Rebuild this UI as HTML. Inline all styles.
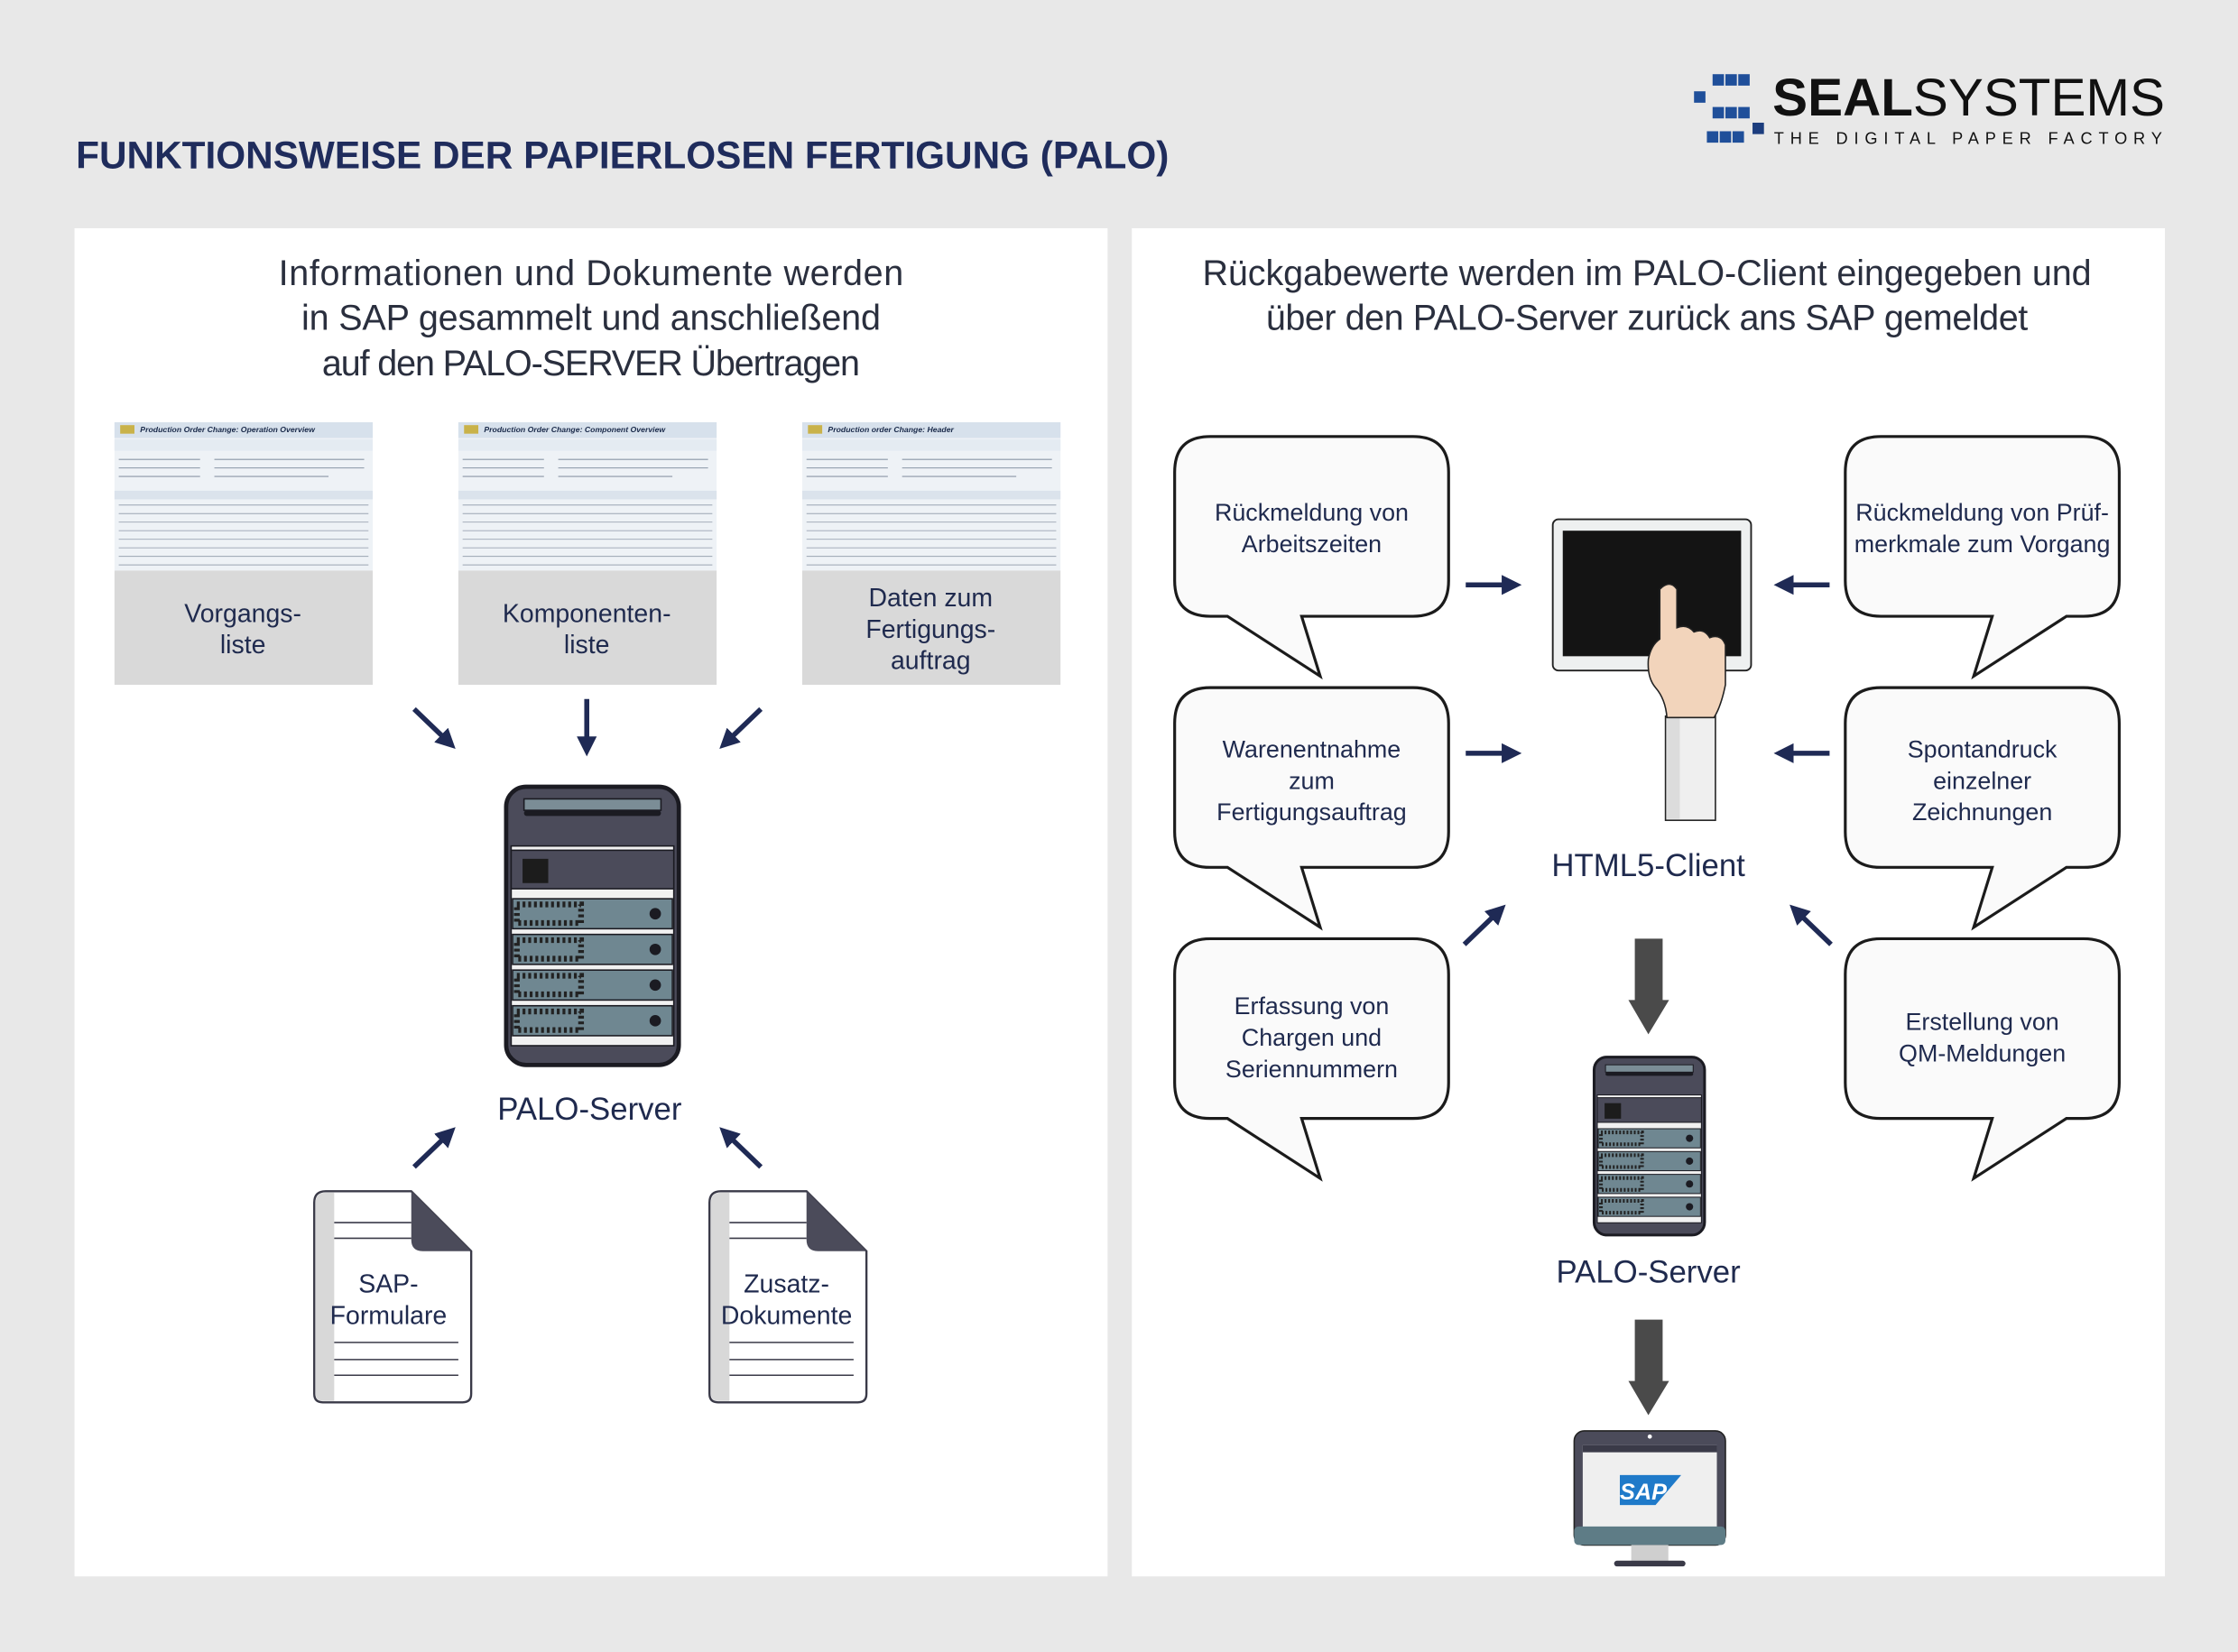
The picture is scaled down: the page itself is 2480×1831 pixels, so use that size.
<!DOCTYPE html>
<html><head><meta charset="utf-8"><style>
html,body{margin:0;padding:0;background:#e8e8e8}
svg{display:block}
text{font-family:"Liberation Sans",sans-serif}
</style></head><body>
<svg width="2480" height="1831" viewBox="0 0 1568 1158" xmlns="http://www.w3.org/2000/svg">
<defs>
<g id="server">
 <rect x="1.5" y="1.5" width="121" height="195" rx="14" fill="#4b4b5a" stroke="#1b1b22" stroke-width="3"/>
 <rect x="14" y="10" width="96" height="8" fill="#7b8d96" stroke="#1b1b22" stroke-width="1"/>
 <rect x="14" y="18" width="96" height="4" rx="2" fill="#1b1b22"/>
 <rect x="5" y="43" width="114" height="140" fill="#f1f1f1" stroke="#1b1b22" stroke-width="1"/>
 <rect x="5" y="46" width="114" height="27" fill="#4b4b5a" stroke="#1b1b22" stroke-width="1"/>
 <rect x="13" y="52" width="18" height="17" fill="#1c1c1c"/>
 <g id="drive">
  <rect x="6" y="80" width="112" height="21" fill="#6f8791" stroke="#1b1b22" stroke-width="1"/>
  <rect x="9" y="84" width="45" height="13" fill="none" stroke="#222" stroke-width="4" stroke-dasharray="2 2"/>
  <circle cx="106" cy="90.5" r="4" fill="#1b1b22"/>
 </g>
 <use href="#drive" y="25"/><use href="#drive" y="50"/><use href="#drive" y="75"/>
</g>
<g id="bubL">
 <path d="M25,0 H167 Q192,0 192,25 V101 Q192,126 167,126 H89 L102,168 L37,126 H25 Q0,126 0,101 V25 Q0,0 25,0 Z" fill="#fafafa" stroke="#1b1b1b" stroke-width="2"/>
</g>
<g id="bubR">
 <path d="M25,0 H167 Q192,0 192,25 V101 Q192,126 167,126 H155 L90,168 L103,126 H25 Q0,126 0,101 V25 Q0,0 25,0 Z" fill="#fafafa" stroke="#1b1b1b" stroke-width="2"/>
</g>
<g id="doc">
 <path d="M8,0 H68 L110,42 V142 Q110,148 104,148 H6 Q0,148 0,142 V8 Q0,0 8,0 Z" fill="#fff" stroke="#3a3a48" stroke-width="1.5"/>
 <path d="M1,8 Q1,1 8,1 H14 V147 H6 Q1,147 1,142 Z" fill="#d8d8d8"/>
 <path d="M68,0 V34 Q68,42 76,42 H110 Z" fill="#4b4b5a"/>
 <line x1="14" y1="22" x2="68" y2="22" stroke="#3a3a48" stroke-width="1"/>
 <line x1="14" y1="33" x2="68" y2="33" stroke="#3a3a48" stroke-width="1"/>
 <line x1="14" y1="106" x2="101" y2="106" stroke="#3a3a48" stroke-width="1"/>
 <line x1="14" y1="118" x2="101" y2="118" stroke="#3a3a48" stroke-width="1"/>
 <line x1="14" y1="129" x2="101" y2="129" stroke="#3a3a48" stroke-width="1"/>
</g>
<g id="shot">
 <rect x="0" y="0" width="181" height="104" fill="#eef2f6"/>
 <rect x="0" y="0" width="181" height="11" fill="#d7e1ec"/>
 <rect x="4" y="2" width="10" height="6" fill="#c9b24a"/>
 <rect x="0" y="12" width="181" height="8" fill="#e4ebf2"/>
 <g stroke="#8a96a6" stroke-width="0.7">
  <line x1="3" y1="26" x2="60" y2="26"/><line x1="70" y1="26" x2="175" y2="26"/>
  <line x1="3" y1="32" x2="60" y2="32"/><line x1="70" y1="32" x2="175" y2="32"/>
  <line x1="3" y1="38" x2="60" y2="38"/><line x1="70" y1="38" x2="150" y2="38"/>
 </g>
 <rect x="0" y="48" width="181" height="6" fill="#dbe3ec"/>
 <g stroke="#9aa4b2" stroke-width="0.6">
  <line x1="3" y1="58" x2="178" y2="58"/><line x1="3" y1="64" x2="178" y2="64"/>
  <line x1="3" y1="70" x2="178" y2="70"/><line x1="3" y1="76" x2="178" y2="76"/>
  <line x1="3" y1="82" x2="178" y2="82"/><line x1="3" y1="88" x2="178" y2="88"/>
  <line x1="3" y1="94" x2="178" y2="94"/><line x1="3" y1="100" x2="178" y2="100"/>
 </g>
</g>
<marker id="ah" viewBox="0 0 10 10" refX="7" refY="5" markerWidth="4" markerHeight="4" orient="auto"><path d="M0,0 L10,5 L0,10 Z" fill="#1f2a55"/></marker>
</defs>

<!-- header -->
<text x="53" y="118" font-size="27" font-weight="bold" fill="#1f2c5c" textLength="766" lengthAdjust="spacingAndGlyphs">FUNKTIONSWEISE DER PAPIERLOSEN FERTIGUNG (PALO)</text>
<g fill="#1f4f9a">
 <rect x="1200" y="52" width="8" height="8"/><rect x="1209" y="52" width="8" height="8"/><rect x="1218" y="52" width="8" height="8"/>
 <rect x="1187" y="64" width="8" height="8"/>
 <rect x="1200" y="75" width="8" height="8"/><rect x="1209" y="75" width="8" height="8"/><rect x="1218" y="75" width="8" height="8"/>
 <rect x="1228" y="86" width="8" height="8" fill="#1c3d7e"/>
 <rect x="1196" y="92" width="8" height="8"/><rect x="1205" y="92" width="8" height="8"/><rect x="1214" y="92" width="8" height="8"/>
</g>
<text x="1242" y="81" font-size="37" fill="#111" textLength="275" lengthAdjust="spacingAndGlyphs"><tspan font-weight="bold">SEAL</tspan>SYSTEMS</text>
<text x="1243" y="101" font-size="11.5" fill="#111" textLength="272" lengthAdjust="spacing">THE DIGITAL PAPER FACTORY</text>

<!-- panels -->
<rect x="52" y="160" width="724" height="945" fill="#fff"/>
<rect x="793" y="160" width="724" height="945" fill="#fff"/>

<g font-size="25" fill="#2a2f3e" text-anchor="middle">
 <text x="414" y="200" textLength="438">Informationen und Dokumente werden</text>
 <text x="414" y="231" textLength="406">in SAP gesammelt und anschließend</text>
 <text x="414" y="263" textLength="377">auf den PALO-SERVER Übertragen</text>
 <text x="1154" y="200" textLength="623">Rückgabewerte werden im PALO-Client eingegeben und</text>
 <text x="1154" y="231" textLength="534">über den PALO-Server zurück ans SAP gemeldet</text>
</g>

<!-- screenshot cards -->
<use href="#shot" x="80" y="296"/><use href="#shot" x="321" y="296"/><use href="#shot" x="562" y="296"/>
<g font-size="5.5" font-weight="bold" font-style="italic" fill="#1a2a4a">
 <text x="98" y="303">Production Order Change: Operation Overview</text>
 <text x="339" y="303">Production Order Change: Component Overview</text>
 <text x="580" y="303">Production order Change: Header</text>
</g>
<rect x="80" y="400" width="181" height="80" fill="#d9d9d9"/>
<rect x="321" y="400" width="181" height="80" fill="#d9d9d9"/>
<rect x="562" y="400" width="181" height="80" fill="#d9d9d9"/>
<g font-size="18" fill="#1f2a4e" text-anchor="middle">
 <text x="170" y="436">Vorgangs-</text><text x="170" y="458">liste</text>
 <text x="411" y="436">Komponenten-</text><text x="411" y="458">liste</text>
 <text x="652" y="425">Daten zum</text><text x="652" y="447">Fertigungs-</text><text x="652" y="469">auftrag</text>
</g>

<g stroke="#1f2a55" stroke-width="3.5" marker-end="url(#ah)">
 <line x1="290" y1="497" x2="316" y2="522"/>
 <line x1="411" y1="490" x2="411" y2="526"/>
 <line x1="533" y1="497" x2="507" y2="522"/>
 <line x1="290" y1="818" x2="316" y2="793"/>
 <line x1="533" y1="818" x2="507" y2="793"/>
 <line x1="1027" y1="410" x2="1062" y2="410"/>
 <line x1="1027" y1="528" x2="1062" y2="528"/>
 <line x1="1282" y1="410" x2="1247" y2="410"/>
 <line x1="1282" y1="528" x2="1247" y2="528"/>
 <line x1="1026" y1="662" x2="1052" y2="637"/>
 <line x1="1283" y1="662" x2="1257" y2="637"/>
</g>

<use href="#server" x="353" y="550"/>
<text x="413" y="785" font-size="22" fill="#1f2a4e" text-anchor="middle">PALO-Server</text>

<use href="#doc" x="220" y="835"/><use href="#doc" x="497" y="835"/>
<g font-size="18" fill="#1f2a4e" text-anchor="middle">
 <text x="272" y="906">SAP-</text><text x="272" y="928">Formulare</text>
 <text x="551" y="906">Zusatz-</text><text x="551" y="928">Dokumente</text>
</g>

<!-- bubbles -->
<use href="#bubL" x="823" y="306"/><use href="#bubL" x="823" y="482"/><use href="#bubL" x="823" y="658"/>
<use href="#bubR" x="1293" y="306"/><use href="#bubR" x="1293" y="482"/><use href="#bubR" x="1293" y="658"/>
<g font-size="17" fill="#1f2a4e" text-anchor="middle">
 <text x="919" y="365">Rückmeldung von</text><text x="919" y="387">Arbeitszeiten</text>
 <text x="919" y="531">Warenentnahme</text><text x="919" y="553">zum</text><text x="919" y="575">Fertigungsauftrag</text>
 <text x="919" y="711">Erfassung von</text><text x="919" y="733">Chargen und</text><text x="919" y="755">Seriennummern</text>
 <text x="1389" y="365">Rückmeldung von Prüf-</text><text x="1389" y="387">merkmale zum Vorgang</text>
 <text x="1389" y="531">Spontandruck</text><text x="1389" y="553">einzelner</text><text x="1389" y="575">Zeichnungen</text>
 <text x="1389" y="722">Erstellung von</text><text x="1389" y="744">QM-Meldungen</text>
</g>

<!-- tablet -->
<rect x="1088" y="364" width="139" height="106" rx="4" fill="#eef0f0" stroke="#222" stroke-width="1.2"/>
<rect x="1095" y="372" width="125" height="88" fill="#141414"/>
<rect x="1167" y="502" width="35" height="73" fill="#efefef" stroke="#222" stroke-width="1"/>
<rect x="1168" y="503" width="9" height="71" fill="#dcdcdc"/>
<path d="M1163,413 Q1170,406 1175,413 L1175,440 Q1182,437 1187,443 Q1194,440 1198,447 Q1206,444 1209,452 L1209,480 Q1206,495 1201,503 L1168,503 Q1167,490 1160,482 Q1154,475 1155,462 Q1157,452 1163,448 Z" fill="#f2d4bb" stroke="#222" stroke-width="1"/>
<text x="1155" y="614" font-size="22" fill="#1f2a4e" text-anchor="middle">HTML5-Client</text>

<!-- gray arrows -->
<path d="M1145.5,658 H1165 V701 H1169.5 L1155,725 L1141,701 H1145.5 Z" fill="#4a4a4a"/>
<path d="M1145.5,925 H1165 V968 H1169.5 L1155,992 L1141,968 H1145.5 Z" fill="#4a4a4a"/>

<g transform="translate(1116,740) scale(0.64)"><use href="#server"/></g>
<text x="1155" y="899" font-size="22" fill="#1f2a4e" text-anchor="middle">PALO-Server</text>

<!-- monitor -->
<rect x="1103" y="1003" width="106" height="80" rx="7" fill="#4b4b5a" stroke="#222" stroke-width="1"/>
<rect x="1109" y="1013" width="94" height="63" fill="#efefef"/>
<rect x="1109" y="1013" width="94" height="5" fill="#3a3a48"/>
<rect x="1103" y="1070" width="106" height="13" rx="3" fill="#5e7c86"/>
<rect x="1143" y="1083" width="26" height="11" fill="#cfcfcf"/>
<rect x="1131" y="1094" width="50" height="4" rx="2" fill="#3a3a48"/>
<circle cx="1156" cy="1007" r="1.5" fill="#fff"/>
<path d="M1135,1034 H1178 L1160,1055 H1135 Z" fill="#1f7ac9"/>
<text x="1135" y="1051" font-size="16" font-weight="bold" fill="#fff" font-style="italic">SAP</text>
</svg>
</body></html>
